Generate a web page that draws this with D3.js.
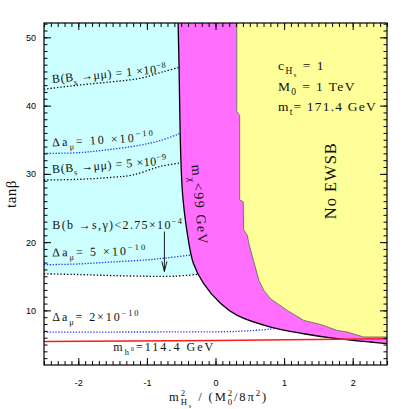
<!DOCTYPE html>
<html>
<head>
<meta charset="utf-8">
<script src="https://cdn.jsdelivr.net/npm/d3@7"></script>
<style>
  body { margin: 0; background: #fff; }
  text { white-space: pre; }
</style>
</head>
<body>
<div id="chart"></div>
<script>
// axes
const xDomain = [-2.5, 2.5];
const yDomain = [2, 52.1];
const xTicks = [-2, -1, 0, 1, 2];
const yTicks = [10, 20, 30, 40, 50];

// m_chi < 99 GeV boundary (solid black), [m2Hs, tanb]
const neutralinoBound = [[-0.545, 52.1], [-0.53, 45], [-0.516, 36.4], [-0.497, 30], [-0.477, 26.7],
  [-0.419, 21.8], [-0.323, 16.9], [-0.177, 14.0], [0.076, 11.0], [0.317, 9.26], [0.803, 7.56],
  [1.287, 6.58], [1.772, 5.85], [2.257, 5.37], [2.5, 5.12]];
// no EWSB boundary (jagged)
const ewsbBound = [[0.31, 52.1], [0.31, 39.1], [0.352, 38.6], [0.352, 26.2], [0.404, 25.9], [0.41, 21.8],
  [0.463, 21.0], [0.487, 19.75], [0.56, 17.07], [0.633, 14.38], [0.705, 12.92], [0.803, 11.7],
  [1.044, 10.0], [1.287, 8.53], [1.53, 7.94], [1.772, 7.07], [1.917, 6.83], [2.16, 6.1], [2.5, 6.1]];
// b -> s gamma limit
const bsgLine = [[-2.5, 15.35], [-2.0, 15.25], [-1.5, 15.1], [-1.0, 15.0], [-0.6, 15.0], [-0.243, 15.3]];
// B(Bs -> mu mu)
const bsmm1e8 = [[-2.5, 42.4], [-2.0, 43.0], [-1.5, 43.5], [-1.1, 44.0], [-0.75, 45.0], [-0.53, 45.6]];
const bsmm5e9 = [[-2.5, 29.1], [-2.0, 29.2], [-1.5, 29.5], [-1.2, 29.85], [-0.8, 31.1], [-0.5, 31.6]];
// delta a_mu
const amu10 = [[-2.5, 33.0], [-2.0, 33.1], [-1.6, 33.5], [-1.1, 34.2], [-0.8, 34.9], [-0.52, 35.9]];
const amu5 = [[-2.5, 16.7], [-2.0, 16.8], [-1.5, 17.1], [-1.0, 17.4], [-0.7, 17.7], [-0.37, 18.1]];
const amu2 = [[-2.5, 6.83], [-1.5, 6.83], [-0.5, 6.85], [0.3, 6.92], [0.8, 7.27], [0.876, 7.42]];
// m_h = 114.4 GeV
const higgsLine = [[-2.5, 5.45], [0, 5.6], [2.5, 5.85]];

// labels: [text, x, tanb, rotation, width px]
const curveLabels = [
  ["B(B_{s} \u2192\u03bc\u03bc) = 1 \u00d710^{\u22128}", -2.378, 43.3, -5.3, 115],
  ["\u0394a_{\u03bc}= 10 \u00d710^{\u221210}", -2.378, 34.0, -3.3, 103],
  ["B(B_{s} \u2192\u03bc\u03bc) = 5 \u00d710^{\u22129}", -2.378, 30.1, -4.4, 115],
  ["B(b \u2192s,\u03b3)<2.75\u00d710^{\u22124}", -2.378, 21.9, 0, 131],
  ["\u0394a_{\u03bc}= 5 \u00d710^{\u221210}", -2.378, 17.9, -1, 95],
  ["\u0394a_{\u03bc}= 2\u00d710^{\u221210}", -2.378, 8.38, 0, 88],
  ["m_{h^{0}}=114.4 GeV", -1.49, 4.05, 0, 102]
];
const paramLabels = ["c_{H_{s}} = 1", "M_{0} = 1 TeV", "m_{t}= 171.4 GeV"];
const paramY = [45.2, 42.2, 39.25];
const paramW = [47, 78, 99];
const arrowFrom = [-0.745, 21.55], arrowTo = [-0.745, 15.7];

const W = 409, H = 409;
const margin = {top: 23, right: 22, bottom: 44, left: 44};
const width = W - margin.left - margin.right;
const height = H - margin.top - margin.bottom;

const svg = d3.select("#chart").append("svg")
  .attr("width", W).attr("height", H);
const g = svg.append("g").attr("transform", `translate(${margin.left},${margin.top})`);

const x = d3.scaleLinear().domain(xDomain).range([0, width]);
const y = d3.scaleLinear().domain(yDomain).range([height, 0]);

const smooth = d3.line().x(d => x(d[0])).y(d => y(d[1])).curve(d3.curveCatmullRom);
const straight = d3.line().x(d => x(d[0])).y(d => y(d[1]));
const pts = arr => arr.map(d => `L${x(d[0])},${y(d[1])}`).join("");

// cyan allowed-by-bsg region
const bsgEnd = bsgLine[bsgLine.length - 1][1];
const upperCurve = neutralinoBound.filter(d => d[1] > bsgEnd);
g.append("path")
  .attr("d", `M${x(xDomain[0])},${y(yDomain[1])}` + pts(upperCurve) + pts(bsgLine.slice().reverse()) + "Z")
  .attr("fill", "#ccffff");

// magenta neutralino region
g.append("path")
  .attr("d", smooth(neutralinoBound) + pts(ewsbBound.slice().reverse()) + "Z")
  .attr("fill", "#ff6eff");

// yellow no EWSB
g.append("path")
  .attr("d", straight(ewsbBound) + `L${x(xDomain[1])},${y(yDomain[1])}Z`)
  .attr("fill", "#ffff99");

g.append("path").attr("d", straight(ewsbBound))
  .attr("fill", "none").attr("stroke", "#666").attr("stroke-width", 0.9);

g.append("path").attr("d", smooth(neutralinoBound))
  .attr("fill", "none").attr("stroke", "#000").attr("stroke-width", 1.3);

// dotted contours
[bsgLine, bsmm1e8, bsmm5e9].forEach(d => {
  g.append("path").attr("d", smooth(d)).attr("fill", "none")
    .attr("stroke", "#000").attr("stroke-width", 1.3).attr("stroke-dasharray", "1.3,2");
});
[amu10, amu5, amu2].forEach(d => {
  g.append("path").attr("d", smooth(d)).attr("fill", "none")
    .attr("stroke", "#2233ff").attr("stroke-width", 1.3).attr("stroke-dasharray", "1.3,1.6");
});

g.append("path").attr("d", straight(higgsLine)).attr("fill", "none")
  .attr("stroke", "#ff1a1a").attr("stroke-width", 1.6);

// arrow
const ax = x(arrowTo[0]), ay = y(arrowTo[1]);
g.append("path")
  .attr("d", `M${x(arrowFrom[0])},${y(arrowFrom[1])}L${ax},${ay}M${ax - 2.5},${ay - 10}L${ax},${ay}L${ax + 2.5},${ay - 10}`)
  .attr("fill", "none").attr("stroke", "#000").attr("stroke-width", 0.9);

// rich text with _{} ^{} and _<{} (stacked under previous)
function parseRich(s, off, fs, out) {
  let i = 0, buf = "";
  const flush = () => { if (buf) { out.push({t: buf, off, fs}); buf = ""; } };
  while (i < s.length) {
    const c = s[i];
    const back = s[i + 1] === "<";
    if ((c === "_" || c === "^") && (s[i + 1] === "{" || (back && s[i + 2] === "{"))) {
      flush();
      let j = i + (back ? 2 : 1), depth = 0;
      const start = j + 1;
      for (; j < s.length; j++) {
        if (s[j] === "{") depth++;
        else if (s[j] === "}" && --depth === 0) break;
      }
      const sub = parseRich(s.slice(start, j), off + (c === "_" ? 0.32 * fs : -0.42 * fs), fs * 0.7, []);
      if (back && sub.length) sub[0].back = true;
      out.push(...sub);
      i = j + 1;
    } else { buf += c; i++; }
  }
  flush();
  return out;
}

// each piece gets its own x; optional target width spreads the letters
function richText(parent, str, fs, opts = {}) {
  const t = parent.append("text").attr("font-family", "'Liberation Serif', 'DejaVu Serif', serif")
    .attr("font-size", fs).attr("fill", "#111");
  const segs = parseRich(str, 0, fs, []);
  let cur = 0;
  const spans = segs.map(seg => {
    const ts = t.append("tspan").attr("font-size", seg.fs).attr("dy", seg.off - cur).text(seg.t);
    cur = seg.off;
    return ts;
  });
  const lens = spans.map(ts => ts.node().getComputedTextLength());
  const layout = ls => {
    let cursor = 0, prevStart = 0;
    const xs = segs.map((seg, i) => {
      const start = seg.back ? prevStart : cursor;
      cursor = Math.max(cursor, start + lens[i] + ls * seg.t.length);
      prevStart = start;
      return start;
    });
    return {xs, total: cursor};
  };
  let ls = opts.ls || 0;
  if (opts.width) {
    const n = segs.filter((s, i) => !(segs[i + 1] && segs[i + 1].back)).reduce((a, s) => a + s.t.length, 0);
    ls = (opts.width - layout(0).total) / n;
  }
  const {xs, total} = layout(ls);
  const shift = opts.anchor === "middle" ? -total / 2 : 0;
  t.attr("letter-spacing", ls);
  spans.forEach((ts, i) => ts.attr("x", xs[i] + shift));
  return t;
}

curveLabels.forEach(([s, lx, ly, rot, w]) => {
  richText(g, s, 12, {width: w}).attr("transform", `translate(${x(lx)},${y(ly)}) rotate(${rot})`);
});

richText(g, "m_{\u03c7}<99 GeV", 14, {width: 81})
  .attr("transform", `translate(${x(-0.349)},${y(31.3)}) rotate(85)`);

richText(g, "No EWSB", 16.5, {width: 77, anchor: "middle"})
  .attr("transform", `translate(${x(1.763)},${y(29.0)}) rotate(-90)`);

paramLabels.forEach((s, i) => {
  richText(g, s, 13.5, {width: paramW[i]})
    .attr("transform", `translate(${x(0.91)},${y(paramY[i])})`);
});

// axes ticks, inward on all four sides
const minorX = d3.range(-25, 26).map(d => d / 10);
const minorY = d3.range(3, 53);
const tickStyle = sel => { sel.select(".domain").remove(); sel.selectAll("line").attr("stroke", "#000"); };
g.append("g").attr("transform", `translate(0,${height})`)
  .call(d3.axisBottom(x).tickValues(minorX).tickSize(-4).tickFormat("")).call(tickStyle);
g.append("g")
  .call(d3.axisTop(x).tickValues(minorX).tickSize(-4).tickFormat("")).call(tickStyle);
g.append("g")
  .call(d3.axisLeft(y).tickValues(minorY).tickSize(-3.5).tickFormat("")).call(tickStyle);
g.append("g").attr("transform", `translate(${width},0)`)
  .call(d3.axisRight(y).tickValues(minorY).tickSize(-3.5).tickFormat("")).call(tickStyle);

const bx = g.append("g").attr("transform", `translate(0,${height})`)
  .call(d3.axisBottom(x).tickValues(xTicks).tickSize(-7).tickPadding(15).tickFormat(d3.format("d")))
  .call(tickStyle);
g.append("g").call(d3.axisTop(x).tickValues(xTicks).tickSize(-7).tickFormat("")).call(tickStyle);
const ly = g.append("g")
  .call(d3.axisLeft(y).tickValues(yTicks).tickSize(-7).tickPadding(15).tickFormat(d3.format("d")))
  .call(tickStyle);
g.append("g").attr("transform", `translate(${width},0)`)
  .call(d3.axisRight(y).tickValues(yTicks).tickSize(-7).tickFormat("")).call(tickStyle);
[bx, ly].forEach(a => a.selectAll("text")
  .attr("font-family", "'Liberation Sans', Arial, sans-serif").attr("font-size", 9).attr("fill", "#000")
  .text(d => d < 0 ? "-" + Math.abs(d) : d));
ly.selectAll("text").attr("x", -8);

g.append("rect").attr("width", width).attr("height", height)
  .attr("fill", "none").attr("stroke", "#000").attr("stroke-width", 1.2);

// axis titles
richText(svg, "tan\u03b2", 15, {ls: 0.5, anchor: "middle"})
  .attr("transform", `translate(16,${margin.top + height / 2}) rotate(-90)`);
richText(svg, "m^{2}_<{H_{s}} / (M^{2}_<{0}/8\u03c0^{2})", 12.5, {width: 99, anchor: "middle"})
  .attr("transform", `translate(218.5,401)`);
</script>
</body>
</html>
